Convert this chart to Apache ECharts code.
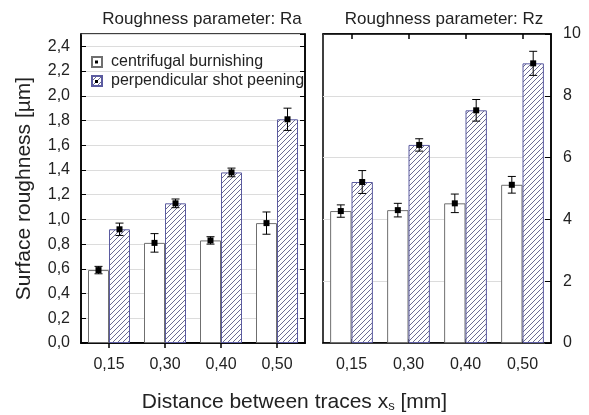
<!DOCTYPE html>
<html>
<head>
<meta charset="utf-8">
<script src="https://cdn.jsdelivr.net/npm/echarts@6/dist/echarts.min.js"></script>
<style>html,body{margin:0;padding:0;background:#fff}#c{width:589px;height:415px}</style>
</head>
<body>
<div id="c"></div>
<script>
// ---- data ----
const categories = ['0,15', '0,30', '0,40', '0,50'];
const seriesNames = ['centrifugal burnishing', 'perpendicular shot peening'];
const raCentrifugal = [0.59, 0.81, 0.83, 0.97];
const raCentrifugalErr = [0.03, 0.075, 0.03, 0.09];
const raPeening = [0.92, 1.13, 1.38, 1.81];
const raPeeningErr = [0.05, 0.035, 0.035, 0.09];
const rzCentrifugal = [4.27, 4.30, 4.52, 5.12];
const rzCentrifugalErr = [0.2, 0.22, 0.3, 0.27];
const rzPeening = [5.21, 6.41, 7.53, 9.05];
const rzPeeningErr = [0.37, 0.2, 0.35, 0.39];
const raTicks = { min: 0, max: 2.5, interval: 0.2 };
const rzTicks = { min: 0, max: 10, interval: 2 };

const FONT = '"Liberation Sans", Arial, sans-serif';

// hatch pattern
function makeHatch() {
  const p = 5;
  const cv = document.createElement('canvas');
  cv.width = p; cv.height = p;
  const ctx = cv.getContext('2d');
  ctx.fillStyle = '#ffffff';
  ctx.fillRect(0, 0, p, p);
  ctx.strokeStyle = '#6c6c92';
  ctx.lineWidth = 1;
  ctx.beginPath();
  ctx.moveTo(-1, p + 1); ctx.lineTo(p + 1, -1);
  ctx.moveTo(-1, 1); ctx.lineTo(1, -1);
  ctx.moveTo(p - 1, p + 1); ctx.lineTo(p + 1, p - 1);
  ctx.stroke();
  return cv;
}
const hatch = { image: makeHatch(), repeat: 'repeat' };

const whiteStyle = { color: '#ffffff', borderColor: '#6f6f6f', borderWidth: 1 };
const hatchStyle = { color: hatch, borderColor: '#5b5ba0', borderWidth: 1 };

const CAT_GAP = 0.25;
function errSeries(name, xi, yi, vals, errs, side) {
  return {
    type: 'custom', name: name + ' err', xAxisIndex: xi, yAxisIndex: yi, z: 5,
    data: vals.map((v, i) => [i, v, errs[i]]),
    renderItem: function (params, api) {
      const ci = api.value(0), v = api.value(1), e = api.value(2);
      const c = api.coord([ci, v]);
      const band = api.size([1, 0])[0];
      const bw = band * (1 - CAT_GAP) / 2;
      const x = c[0] + side * bw / 2;
      const yt = api.coord([ci, v + e])[1];
      const yb = api.coord([ci, v - e])[1];
      const cap = 4;
      const st = { stroke: '#000', lineWidth: 1 };
      return {
        type: 'group', children: [
          { type: 'line', shape: { x1: x, y1: yt, x2: x, y2: yb }, style: st },
          { type: 'line', shape: { x1: x - cap, y1: yt, x2: x + cap, y2: yt }, style: st },
          { type: 'line', shape: { x1: x - cap, y1: yb, x2: x + cap, y2: yb }, style: st },
          { type: 'rect', shape: { x: x - 3, y: c[1] - 3, width: 6, height: 6 }, style: { fill: '#000' } }
        ]
      };
    }
  };
}

const labelStyle = { fontFamily: FONT, fontSize: 16, color: '#222' };
const fmt = v => v.toFixed(1).replace('.', ',');

function catAxis(grid, pos, labels) {
  return {
    type: 'category', gridIndex: grid, position: pos, data: categories,
    axisLine: { show: true, lineStyle: { color: '#000', width: 1.5 } },
    axisTick: { show: true, inside: true, alignWithLabel: true, length: pos === 'top' ? 5 : 4, lineStyle: { color: '#000', width: 1.5 } },
    axisLabel: labels ? Object.assign({ margin: 14 }, labelStyle) : { show: false },
    splitLine: { show: false }
  };
}

const titleStyle = { fontFamily: FONT, fontSize: 17, fontWeight: 'normal', color: '#222' };

const option = {
  animation: false,
  backgroundColor: '#fff',
  title: [
    { text: 'Roughness parameter: Ra', left: 197, top: 6, textAlign: 'center', textStyle: titleStyle },
    { text: 'Roughness parameter: Rz', left: 439, top: 6, textAlign: 'center', textStyle: titleStyle },
    {
      text: '{a|Distance between traces x}{s|s}{a| [mm]}', left: 'center', top: 386,
      textStyle: {
        fontWeight: 'normal',
        rich: {
          a: { fontFamily: FONT, fontSize: 21, fontWeight: 'normal', color: '#222' },
          s: { fontFamily: FONT, fontSize: 13, fontWeight: 'normal', color: '#222', verticalAlign: 'bottom', padding: [9, 0, 0, 0] }
        }
      }
    }
  ],
  legend: {
    data: seriesNames, orient: 'vertical', left: 91, top: 54, padding: 0, itemWidth: 10, itemHeight: 10, itemGap: 3,
    icon: 'rect',
    textStyle: { fontFamily: FONT, fontSize: 16, color: '#222', padding: [0, 0, 0, 4] },
    selectedMode: false
  },
  grid: [
    { left: 81, top: 34, width: 224, height: 309, show: true, borderColor: '#000', borderWidth: 1.5 },
    { left: 323, top: 34, width: 228, height: 309, show: true, borderColor: '#000', borderWidth: 1.5 }
  ],
  xAxis: [
    catAxis(0, 'bottom', true), catAxis(0, 'top', false),
    catAxis(1, 'bottom', true), catAxis(1, 'top', false)
  ],
  yAxis: [
    {
      type: 'value', gridIndex: 0, position: 'left', min: raTicks.min, max: raTicks.max, interval: raTicks.interval,
      name: 'Surface roughness [µm]', nameLocation: 'middle', nameGap: 46, nameRotate: 90,
      nameTextStyle: { fontFamily: FONT, fontSize: 21, color: '#222' },
      axisLine: { show: true, lineStyle: { color: '#000', width: 1.5 } },
      axisTick: { show: true, inside: true, length: 5, lineStyle: { color: '#000' } },
      axisLabel: Object.assign({ formatter: fmt, showMaxLabel: false, margin: 11 }, labelStyle),
      splitLine: { show: true, lineStyle: { color: '#dcdcdc' } }
    },
    {
      type: 'value', gridIndex: 0, position: 'right', min: raTicks.min, max: raTicks.max, interval: raTicks.interval,
      axisLine: { show: true, lineStyle: { color: '#000', width: 1.5 } },
      axisTick: { show: true, inside: true, length: 5, lineStyle: { color: '#000' } },
      axisLabel: { show: false }, splitLine: { show: false }
    },
    {
      type: 'value', gridIndex: 1, position: 'right', min: rzTicks.min, max: rzTicks.max, interval: rzTicks.interval,
      axisLine: { show: true, lineStyle: { color: '#000', width: 1.5 } },
      axisTick: { show: true, inside: true, length: 6, lineStyle: { color: '#000' } },
      axisLabel: Object.assign({ margin: 12, formatter: v => String(v) }, labelStyle),
      splitLine: { show: true, lineStyle: { color: '#dcdcdc' } }
    }
  ],
  series: [
    { type: 'bar', name: seriesNames[0], xAxisIndex: 0, yAxisIndex: 0, data: raCentrifugal, barGap: '0%', barCategoryGap: '25%', itemStyle: whiteStyle },
    { type: 'bar', name: seriesNames[1], xAxisIndex: 0, yAxisIndex: 0, data: raPeening, barGap: '0%', barCategoryGap: '25%', itemStyle: hatchStyle },
    { type: 'bar', name: seriesNames[0], xAxisIndex: 2, yAxisIndex: 2, data: rzCentrifugal, barGap: '0%', barCategoryGap: '25%', itemStyle: whiteStyle },
    { type: 'bar', name: seriesNames[1], xAxisIndex: 2, yAxisIndex: 2, data: rzPeening, barGap: '0%', barCategoryGap: '25%', itemStyle: hatchStyle },
    errSeries('raC', 0, 0, raCentrifugal, raCentrifugalErr, -1),
    errSeries('raP', 0, 0, raPeening, raPeeningErr, 1),
    errSeries('rzC', 2, 2, rzCentrifugal, rzCentrifugalErr, -1),
    errSeries('rzP', 2, 2, rzPeening, rzPeeningErr, 1)
  ],
  graphic: [
    { type: 'rect', shape: { x: 95, y: 60.5, width: 3, height: 3 }, style: { fill: '#000' }, z: 100 },
    { type: 'rect', shape: { x: 95, y: 80, width: 3, height: 3 }, style: { fill: '#000' }, z: 100 }
  ]
};

const chart = echarts.init(document.getElementById('c'), null, { renderer: 'canvas' });
chart.setOption(option);
</script>
</body>
</html>
